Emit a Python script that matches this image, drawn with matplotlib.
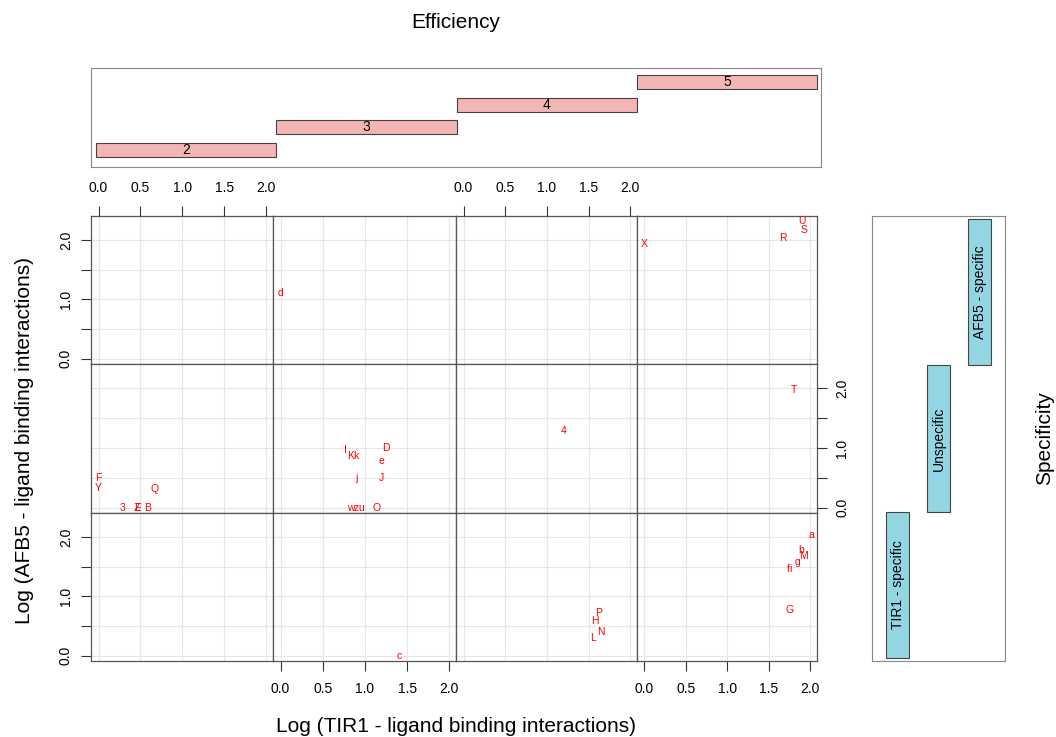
import matplotlib
matplotlib.use("Agg")
import matplotlib.pyplot as plt

plt.rcParams['font.family'] = ['Liberation Sans', 'DejaVu Sans']

# conditioning levels
eff_levels = [2, 3, 4, 5]
spec_levels = ['TIR1 - specific', 'Unspecific', 'AFB5 - specific']

# points: label, log TIR1, log AFB5, efficiency, specificity
labels = ['F', 'Y', 'Q', '3', 'E', 'Z', 'B',
          'd',
          'I', 'K', 'k', 'D', 'e', 'j', 'J', 'w', 'z', 'u', 'O',
          'c',
          '4',
          'P', 'H', 'N', 'L',
          'U', 'S', 'R', 'X',
          'T',
          'a', 'b', 'M', 'g', 'f', 'i', 'G']
tir1 = [0.0, 0.0, 0.67, 0.28, 0.46, 0.46, 0.58,
        0.0,
        0.77, 0.83, 0.89, 1.25, 1.2, 0.9, 1.2, 0.83, 0.9, 0.96, 1.14,
        1.41,
        1.2,
        1.62, 1.58, 1.65, 1.55,
        1.90, 1.92, 1.67, 0.0,
        1.80,
        2.01, 1.89, 1.92, 1.85, 1.73, 1.76, 1.75]
afb5 = [0.49, 0.33, 0.32, 0.0, 0.0, 0.0, 0.0,
        1.11,
        0.97, 0.86, 0.86, 1.0, 0.79, 0.49, 0.49, 0.0, 0.0, 0.0, 0.0,
        0.0,
        1.28,
        0.72, 0.59, 0.40, 0.30,
        2.32, 2.18, 2.04, 1.93,
        1.98,
        2.03, 1.78, 1.68, 1.58, 1.46, 1.46, 0.77]
eff = [2, 2, 2, 2, 2, 2, 2,
       3,
       3, 3, 3, 3, 3, 3, 3, 3, 3, 3, 3,
       3,
       4,
       4, 4, 4, 4,
       5, 5, 5, 5,
       5,
       5, 5, 5, 5, 5, 5, 5]
spec = [1, 1, 1, 1, 1, 1, 1,
        2,
        1, 1, 1, 1, 1, 1, 1, 1, 1, 1, 1,
        0,
        1,
        0, 0, 0, 0,
        2, 2, 2, 2,
        1,
        0, 0, 0, 0, 0, 0, 0]

W, H = 1056, 737
fig = plt.figure(figsize=(W / 100, H / 100), dpi=100)


def px_axes(x0, y0, x1, y1):
    return fig.add_axes([x0 / W, 1 - y1 / H, (x1 - x0) / W, (y1 - y0) / H])


cols = [91, 273, 456, 637, 817]
rows = [216, 364, 513, 661]
ticks = [0, 0.5, 1, 1.5, 2]
xlabs = ['0.0', '0.5', '1.0', '1.5', '2.0']
ylabs = ['0.0', '', '1.0', '', '2.0']
edge = '#555555'

for r in range(3):
    for c in range(4):
        ax = px_axes(cols[c], rows[r], cols[c + 1], rows[r + 1])
        s = 2 - r
        lev = eff_levels[c]
        ax.set_xlim(-0.09, 2.08)
        ax.set_ylim(-0.09, 2.41)
        ax.set_xticks(ticks)
        ax.set_yticks(ticks)
        ax.set_xticklabels(xlabs)
        ax.set_yticklabels(ylabs, rotation=90, va='center')
        ax.grid(True, color='#e6e6e6', lw=0.8)
        ax.set_axisbelow(True)
        for sp in ax.spines.values():
            sp.set_color(edge)
            sp.set_linewidth(0.9)
        top_on = (r == 0 and c in (0, 2))
        bot_on = (r == 2 and c in (1, 3))
        left_on = (c == 0 and r in (0, 2))
        right_on = (c == 3 and r == 1)
        ax.tick_params(axis='x', top=top_on, bottom=bot_on, labeltop=top_on,
                       labelbottom=bot_on, direction='out', length=7,
                       color='#333333', labelsize=10, pad=8)
        ax.tick_params(axis='y', left=left_on, right=right_on, labelleft=left_on,
                       labelright=right_on, direction='out', length=7,
                       color='#333333', labelsize=10, pad=6)
        for lab, x, y, e, sc in zip(labels, tir1, afb5, eff, spec):
            if e == lev and sc == s:
                ax.text(x, y, lab, color='red', fontsize=7.5, ha='center',
                        va='center', clip_on=False)

# given panel: Efficiency
axt = px_axes(91, 68, 821, 167)
for i, lev in enumerate(eff_levels):
    axt.barh(i + 1, 1.0, left=lev - 0.5, height=0.62, color='#f4b5b5',
             edgecolor='#444444', lw=0.8)
    axt.text(lev, i + 1, str(lev), ha='center', va='center', fontsize=10)
axt.set_xlim(1.472, 5.522)
axt.set_ylim(0.25, 4.61)
axt.set_xticks([])
axt.set_yticks([])
for sp in axt.spines.values():
    sp.set_color('#888888')

# given panel: Specificity
axr = px_axes(872, 216, 1005, 661)
for i, lev in enumerate(spec_levels):
    axr.bar(i + 1, 1.0, bottom=i + 0.5, width=0.56, color='#92d5e3',
            edgecolor='#444444', lw=0.8)
    axr.text(i + 1, i + 1, lev, ha='center', va='center', fontsize=10,
             rotation=90)
axr.set_xlim(0.378, 3.62)
axr.set_ylim(0.48, 3.52)
axr.set_xticks([])
axr.set_yticks([])
for sp in axr.spines.values():
    sp.set_color('#888888')

fig.text(456 / W, 1 - 23 / H, 'Efficiency', ha='center', va='center', fontsize=15)
fig.text(1045 / W, 1 - 438 / H, 'Specificity', ha='center', va='center',
         fontsize=15, rotation=90)
fig.text(456 / W, 1 - 726 / H, 'Log (TIR1 - ligand binding interactions)',
         ha='center', va='center', fontsize=15)
fig.text(25 / W, 1 - 440 / H, 'Log (AFB5 - ligand binding interactions)',
         ha='center', va='center', fontsize=15, rotation=90)

fig.savefig('out.png', dpi=100)
